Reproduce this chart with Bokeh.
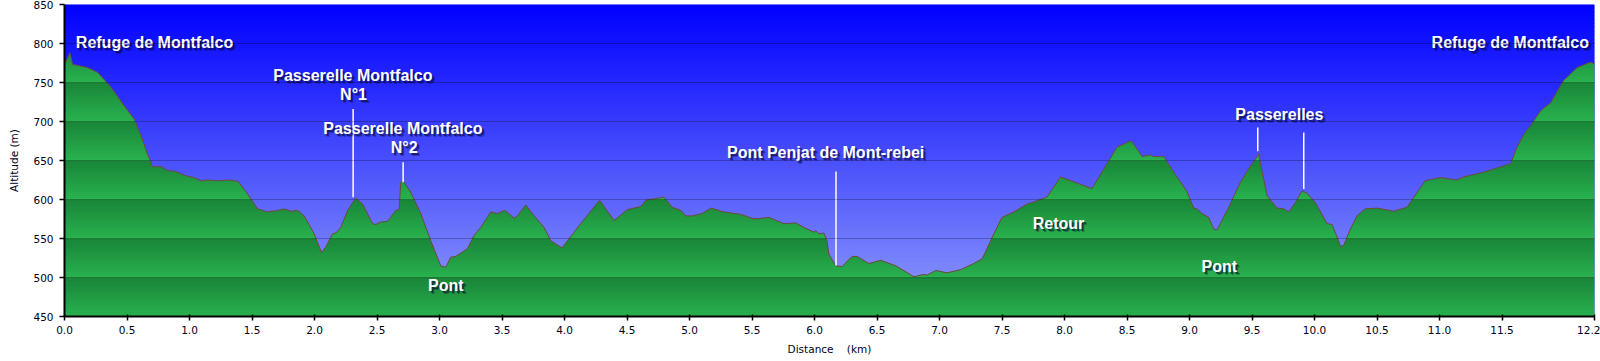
import numpy as np
from bokeh.plotting import figure
from bokeh.models import ColumnDataSource, Label, FixedTicker, Range1d, PrintfTickFormatter
from bokeh.embed import file_html
from bokeh.resources import INLINE

# ---------------- data ----------------
distance_km = [
    0.0, 0.044, 0.065, 0.105, 0.185, 0.265, 0.372, 0.478, 0.558, 0.612, 0.665, 0.705, 0.772, 0.825,
    0.89, 0.958, 1.038, 1.09, 1.145, 1.225, 1.33, 1.39, 1.465, 1.545, 1.625, 1.705, 1.757, 1.81,
    1.865, 1.917, 1.997, 2.056, 2.09, 2.145, 2.17, 2.21, 2.265, 2.33, 2.385, 2.464, 2.49, 2.53,
    2.585, 2.65, 2.677, 2.69, 2.709, 2.77, 2.85, 2.93, 3.01, 3.05, 3.09, 3.13, 3.224, 3.277, 3.33,
    3.41, 3.464, 3.522, 3.597, 3.624, 3.69, 3.757, 3.837, 3.89, 3.98, 4.13, 4.28, 4.396, 4.503,
    4.61, 4.65, 4.796, 4.863, 4.93, 4.97, 5.023, 5.103, 5.17, 5.276, 5.41, 5.516, 5.636, 5.756,
    5.85, 5.916, 5.996, 6.01, 6.035, 6.075, 6.10, 6.115, 6.17, 6.22, 6.30, 6.34, 6.435, 6.53,
    6.65, 6.795, 6.875, 6.90, 6.97, 7.06, 7.168, 7.275, 7.342, 7.435, 7.50, 7.595, 7.70, 7.86,
    7.968, 8.22, 8.42, 8.528, 8.55, 8.62, 8.688, 8.714, 8.794, 8.874, 8.93, 8.98, 9.034, 9.06,
    9.10, 9.154, 9.194, 9.22, 9.314, 9.407, 9.487, 9.554, 9.58, 9.62, 9.70, 9.754, 9.794, 9.847,
    9.90, 9.94, 10.007, 10.10, 10.14, 10.193, 10.207, 10.233, 10.287, 10.34, 10.407, 10.50,
    10.633, 10.74, 10.886, 11.006, 11.14, 11.194, 11.327, 11.434, 11.49, 11.57, 11.62, 11.677,
    11.73, 11.81, 11.89, 11.99, 12.10, 12.206, 12.24,
]
altitude_m = [
    773, 788, 773, 772, 769, 763, 744, 720, 703, 682, 658, 642, 642, 637,
    636, 631, 628, 624, 625, 624, 625, 623, 607, 588, 584, 586, 588, 585,
    586, 579, 556, 532, 539, 556, 557, 564, 586, 602, 594, 569, 568, 571,
    572, 586, 587, 622, 624, 609, 582, 547, 515, 513, 526, 527, 537, 554, 564,
    584, 582, 586, 576, 579, 593, 579, 564, 547, 538, 569, 599, 573, 587,
    591, 599, 603, 590, 586, 579, 579, 582, 589, 584, 581, 575, 577, 569,
    570, 564, 558, 560, 556, 557, 547, 530, 515, 514, 527, 527, 518, 522,
    515, 501, 504, 503, 509, 506, 510, 518, 524, 556, 577, 584, 594, 603,
    629, 614, 667, 675, 672, 655, 657, 655, 655, 635, 622, 610, 589, 588,
    582, 577, 562, 561, 590, 622, 643, 658, 637, 605, 589, 588, 584, 596,
    611, 608, 596, 569, 568, 547, 540, 541, 562, 579, 588, 589,
    585, 590, 624, 628, 625, 629, 634, 639, 642, 646, 667, 684,
    695, 714, 724, 752, 769, 776, 774,
]

x_tick_values = [0.0, 0.5, 1.0, 1.5, 2.0, 2.5, 3.0, 3.5, 4.0, 4.5, 5.0, 5.5, 6.0, 6.5, 7.0,
                 7.5, 8.0, 8.5, 9.0, 9.5, 10.0, 10.5, 11.0, 11.5, 12.24]
x_end_label = "12.2"
y_tick_values = [450, 500, 550, 600, 650, 700, 750, 800, 850]

annotation_texts = ["Refuge de Montfalco", "Passerelle Montfalco", "N°1", "Passerelle Montfalco",
                    "N°2", "Pont", "Pont Penjat de Mont-rebei", "Retour", "Pont", "Passerelles",
                    "Refuge de Montfalco"]
annotation_km = [0.72, 2.307, 2.312, 2.707, 2.717, 3.05, 6.089, 7.952, 9.239, 9.719, 11.566]
annotation_alt = [800.8, 758.6, 734.2, 691.1, 666.8, 489.7, 660.4, 569.5, 514.4, 709.5, 801.2]

pointer_km = [2.309, 2.709, 6.172, 9.546, 9.914]
pointer_top = [715.9, 647.6, 636.0, 692.4, 686.0]
pointer_bottom = [602.8, 622.0, 515.3, 661.7, 613.5]

X_MIN, X_MAX = 0.0, 12.24
Y_MIN, Y_MAX = 450, 850

# ---------------- figure ----------------
p = figure(width=1600, height=361, output_backend="svg", toolbar_location=None,
           x_range=Range1d(X_MIN, X_MAX), y_range=Range1d(Y_MIN, Y_MAX),
           min_border_left=64, min_border_right=6, min_border_top=4, min_border_bottom=45)
p.background_fill_color = "#3a40ff"
p.border_fill_color = "white"
p.outline_line_color = None

# sky gradient
sky_step = 5
sky_levels = np.arange(Y_MIN, Y_MAX, sky_step)
c_low = np.array([146, 158, 250])
c_high = np.array([0, 0, 255])
sky_cols = []
for lv in sky_levels:
    t = (lv + sky_step / 2 - Y_MIN) / (Y_MAX - Y_MIN)
    c = c_low * (1 - t) + c_high * t
    sky_cols.append("#%02x%02x%02x" % tuple(int(round(v)) for v in c))
p.quad(left=X_MIN, right=X_MAX, bottom=sky_levels, top=np.minimum(sky_levels + sky_step + 1.5, Y_MAX),
       fill_color=sky_cols, line_color=None)

# green terrain with banded gradient
x = np.array(distance_km, float)
y = np.array(altitude_m, float)
p.varea(x=x, y1=Y_MIN, y2=y, fill_color="#22a048")

band_step = 2.5
levels = np.arange(Y_MIN, Y_MAX + 1e-9, band_step)
rx, ry = [x[0]], [y[0]]
for i in range(len(x) - 1):
    x0, y0, x1, y1 = x[i], y[i], x[i + 1], y[i + 1]
    lo, hi = min(y0, y1), max(y0, y1)
    cross = levels[(levels > lo) & (levels < hi)]
    if len(cross):
        xc = x0 + (cross - y0) / (y1 - y0) * (x1 - x0)
        o = np.argsort(xc)
        rx.extend(xc[o]); ry.extend(cross[o])
    rx.append(x1); ry.append(y1)
rx = np.array(rx); ry = np.array(ry)

light = np.array([42, 180, 80])
dark = np.array([24, 130, 54])
bxs, bys, bcols = [], [], []
for b in levels[:-1]:
    if b >= y.max():
        break
    t = b + band_step
    up = np.clip(ry, b, t)
    keep = np.ones(len(up), bool)
    keep[1:-1] = ~((up[1:-1] == up[:-2]) & (up[1:-1] == up[2:]))
    ux, uy = rx[keep], up[keep]
    bxs.append(list(ux) + [ux[-1], ux[0]])
    bys.append(list(uy) + [b, b])
    f = ((b + band_step / 2 - Y_MIN) % 50) / 50.0
    c = light * (1 - f) + dark * f
    bcols.append("#%02x%02x%02x" % tuple(int(round(v)) for v in c))
p.patches(xs="xs", ys="ys", fill_color="c", line_color=None,
          source=ColumnDataSource(dict(xs=bxs, ys=bys, c=bcols)))

# profile outline
p.line(x, y, line_color="#6e4a3c", line_width=1)

# grid
p.xgrid.visible = False
p.ygrid.ticker = FixedTicker(ticks=y_tick_values)
p.ygrid.grid_line_color = "black"
p.ygrid.grid_line_alpha = 0.25
p.ygrid.grid_line_width = 1
p.ygrid.level = "overlay"

# pointers
p.segment(x0=pointer_km, y0=pointer_bottom, x1=pointer_km, y1=pointer_top,
          line_color="white", line_width=1.5)

# annotations with shadow
for txt, kx, ay in zip(annotation_texts, annotation_km, annotation_alt):
    for off, alpha in ((3, 0.3), (2, 0.55)):
        p.add_layout(Label(x=kx, y=ay, text=txt, x_offset=off, y_offset=-off,
                           text_color="#05052a", text_alpha=alpha,
                           text_font="Liberation Sans", text_font_size="16px",
                           text_font_style="bold", text_align="center", text_baseline="middle"))
    p.add_layout(Label(x=kx, y=ay, text=txt, text_color="white",
                       text_font="Liberation Sans", text_font_size="16px",
                       text_font_style="bold", text_align="center", text_baseline="middle"))

# axes
p.xaxis.ticker = FixedTicker(ticks=x_tick_values)
p.xaxis.formatter = PrintfTickFormatter(format="%.1f")
p.xaxis.major_label_overrides = {x_tick_values[-1]: x_end_label}
p.yaxis.ticker = FixedTicker(ticks=y_tick_values)

for ax in (p.xaxis[0], p.yaxis[0]):
    ax.axis_line_color = "black"
    ax.axis_line_width = 2
    ax.major_tick_line_color = "black"
    ax.major_tick_line_width = 1.5
    ax.minor_tick_line_color = None
    ax.major_label_text_font = "DejaVu Sans"
    ax.major_label_text_font_size = "10.5px"
    ax.major_label_text_color = "#000022"
    ax.axis_label_text_font = "DejaVu Sans"
    ax.axis_label_text_font_size = "10.5px"
    ax.axis_label_text_font_style = "normal"
    ax.axis_label_text_color = "#000022"

p.xaxis.major_tick_out = 4
p.xaxis.major_tick_in = 2
p.xaxis.major_label_standoff = 5
p.xaxis.axis_label = "Distance\u00a0\u00a0\u00a0\u00a0(km)"
p.xaxis.axis_label_standoff = 6

p.yaxis.major_tick_out = 5
p.yaxis.major_tick_in = 0
p.yaxis.major_label_standoff = 6
p.yaxis.axis_label = "Altitude (m)"
p.yaxis.axis_label_standoff = 10

open("out.html", "w").write(file_html(p, INLINE))
